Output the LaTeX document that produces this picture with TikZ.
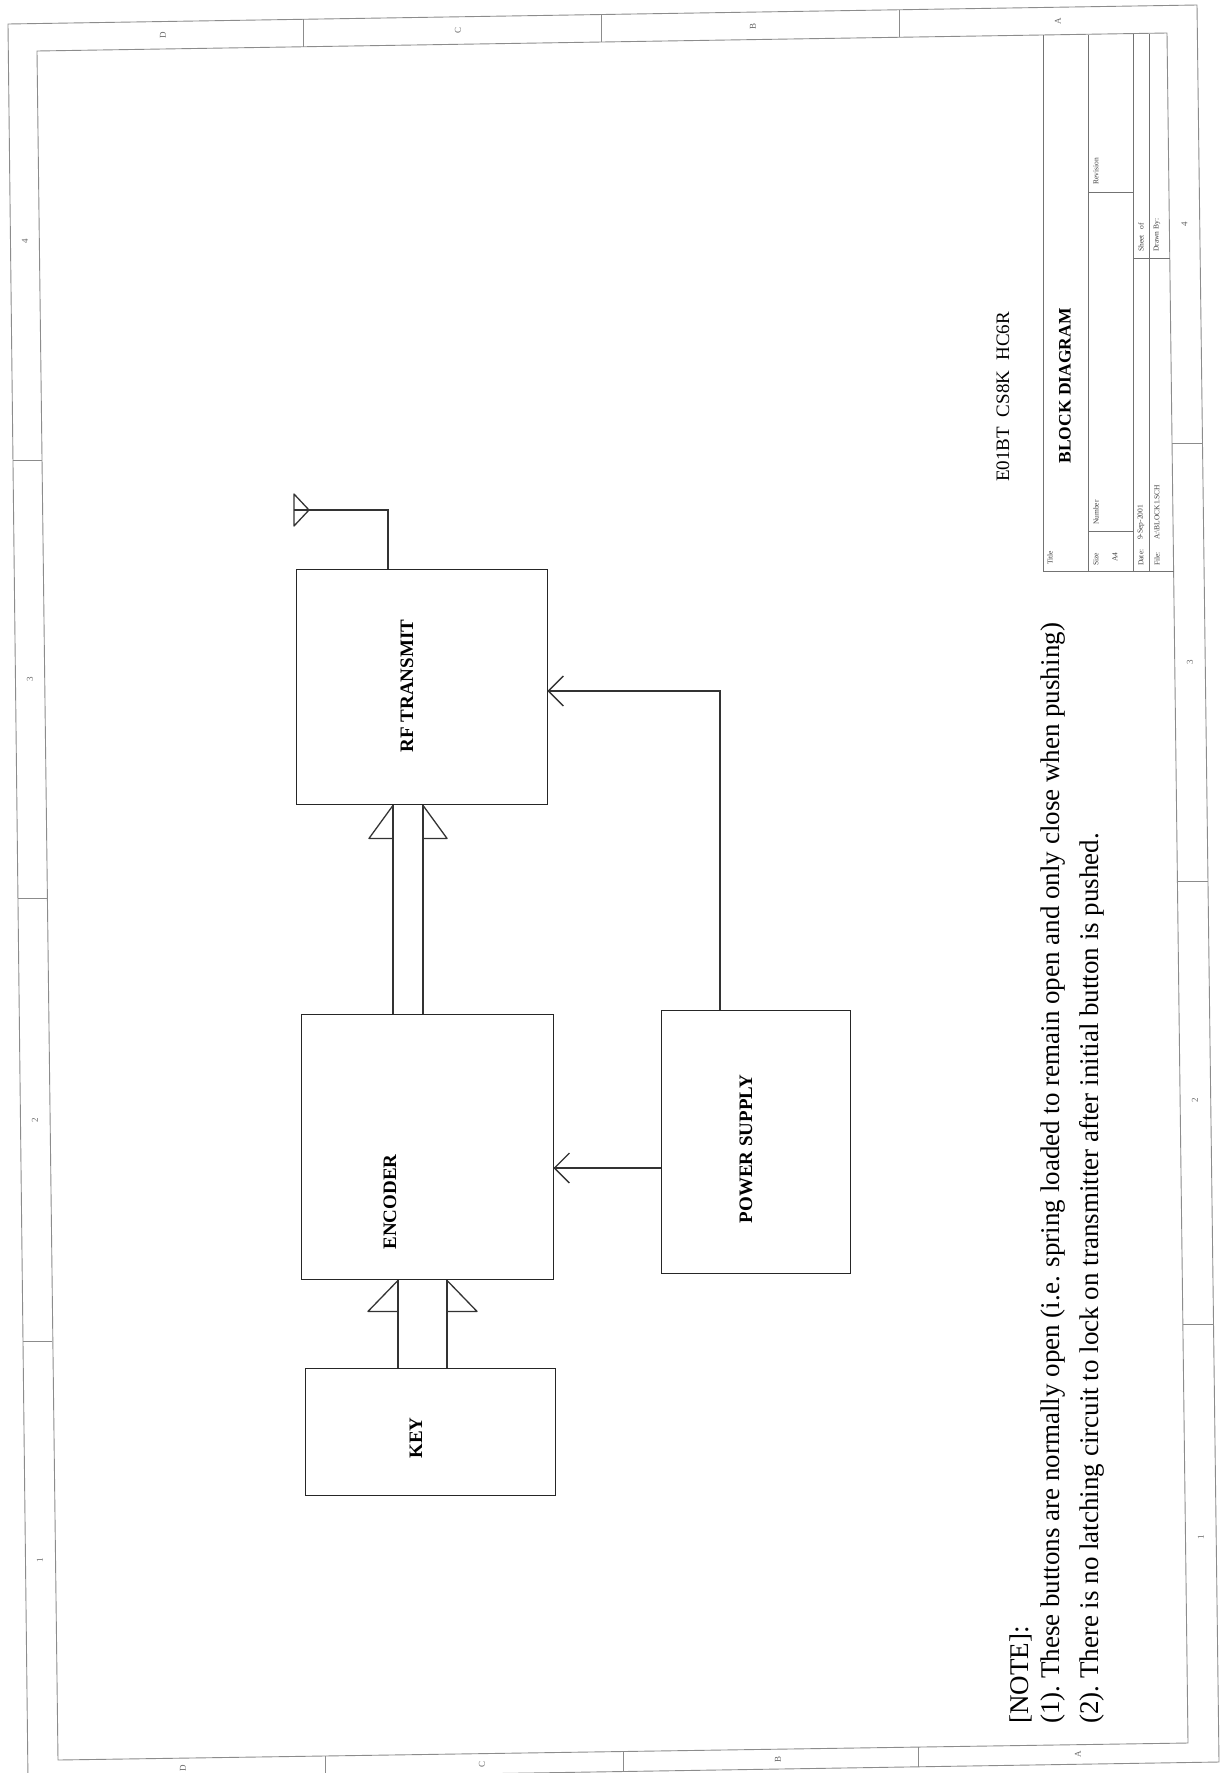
\documentclass[tikz,border=0pt]{standalone}
\usepackage{fontspec}
\setmainfont{Liberation Serif}
\usetikzlibrary{calc}
\begin{document}
\begin{tikzpicture}[x=1pt,y=-1pt,
  frame/.style={draw=black!45, line width=0.9pt},
  tbl/.style={draw=black!55, line width=0.7pt},
  blk/.style={draw=black!85, line width=1.4pt, rectangle, inner sep=0pt, anchor=north west},
  wire/.style={draw=black!80, line width=1.3pt},
  lbl/.style={font=\fontsize{19}{22}\selectfont\bfseries, rotate=90, inner sep=0pt},
  zone/.style={font=\fontsize{9}{10}\selectfont, text=black!60, rotate=90, inner sep=0pt},
  tiny/.style={font=\fontsize{7.5}{8}\selectfont, text=black!75, rotate=90, inner sep=0pt, anchor=west},
  note/.style={font=\fontsize{27}{32}\selectfont, rotate=90, inner sep=0pt, anchor=west}]
\useasboundingbox (0,0) rectangle (1220,1773);
\fill[white] (0,0) rectangle (1220,1773);
% frame corners
\coordinate (oTL) at (8,24);   \coordinate (oTR) at (1197,5);
\coordinate (oBR) at (1219,1762); \coordinate (oBL) at (28,1781);
\coordinate (iTL) at (37,51);  \coordinate (iTR) at (1167,33);
\coordinate (iBR) at (1188,1743); \coordinate (iBL) at (58,1760);
\draw[frame] (oTL) -- (oTR) -- (oBR) -- (oBL) -- cycle;
\draw[frame] (iTL) -- (iTR) -- (iBR) -- (iBL) -- cycle;
% top zone dividers and letters
\draw[frame] (303,19.3) -- (303,46.8);
\draw[frame] (601,14.5) -- (601,42.0);
\draw[frame] (899,9.8) -- (899,37.3);
\node[zone] (zt1) at (163,35) {D};
\node[zone] (zt2) at (458,30.5) {C};
\node[zone] (zt3) at (753,26) {B};
\node[zone] (zt4) at (1058,21) {A};
% bottom
\draw[frame] (325,1756) -- (325,1777);
\draw[frame] (623,1751.5) -- (623,1772);
\draw[frame] (918,1747) -- (918,1767);
\node[zone] (zb1) at (183,1768) {D};
\node[zone] (zb2) at (482,1764) {C};
\node[zone] (zb3) at (778,1759) {B};
\node[zone] (zb4) at (1078,1754) {A};
% left
\draw[frame] (13,460) -- (42,460);
\draw[frame] (18,898) -- (47,898);
\draw[frame] (23,1341) -- (52,1341);
\node[zone] (zl1) at (25,241) {4};
\node[zone] (zl2) at (30,679) {3};
\node[zone] (zl3) at (35,1120) {2};
\node[zone] (zl4) at (40,1560) {1};
% right
\draw[frame] (1172,443) -- (1202.5,443);
\draw[frame] (1177.4,881) -- (1208,881);
\draw[frame] (1182.9,1324) -- (1213.5,1324);
\node[zone] (zr1) at (1184.5,224) {4};
\node[zone] (zr2) at (1190,662) {3};
\node[zone] (zr3) at (1195,1100) {2};
\node[zone] (zr4) at (1201,1537) {1};

% title block
\draw[tbl] (1043,35) -- (1043,571) -- (1174,571);
\draw[tbl] (1088,35) -- (1088,571);
\draw[tbl] (1133,34) -- (1133,571);
\draw[tbl] (1149,34) -- (1149,571);
\draw[tbl] (1088,531) -- (1133,531);
\draw[tbl] (1088,192) -- (1133,192);
\draw[tbl] (1133,258) -- (1170,258);
\node[tiny] (t1) at (1050,565) {Title};
\node[font=\fontsize{17.5}{20}\selectfont\bfseries, rotate=90, inner sep=0pt] (t2) at (1065,386) {BLOCK DIAGRAM};
\node[tiny] (t3) at (1096,566) {Size};
\node[tiny] (t4) at (1115,562) {A4};
\node[tiny] (t5) at (1096,525) {Number};
\node[tiny] (t6) at (1096,185) {Revision};
\node[tiny] (t7) at (1141,566) {Date:};
\node[tiny] (t8) at (1141,540) {9-Sep-2001};
\node[tiny] (t9) at (1157,566) {File:};
\node[tiny] (t10) at (1157,540) {A:\textbackslash BLOCK1.SCH};
\node[tiny] (t11) at (1141,252) {Sheet\hspace{4pt} of};
\node[tiny] (t12) at (1157,252) {Drawn By:};
\node[font=\fontsize{19}{22}\selectfont, rotate=90, inner sep=0pt] (model) at (1003,397) {E01BT\hspace{10pt}CS8K\hspace{10pt}HC6R};

% notes
\node[note] (n0) at (1021,1724) {[NOTE]:};
\node[note] (n1) at (1053,1724) {(1).\ These buttons are normally open (i.e. spring loaded to remain open and only close when pushing)};
\node[note] (n2) at (1092,1724) {(2).\ There is no latching circuit to lock on transmitter after initial button is pushed.};

% blocks
\node[blk, minimum width=251pt, minimum height=235pt] (rf) at (296,569) {};
\node[blk, minimum width=252pt, minimum height=265pt] (enc) at (301,1014) {};
\node[blk, minimum width=189pt, minimum height=263pt] (ps) at (661,1010) {};
\node[blk, minimum width=250pt, minimum height=127pt] (key) at (305,1368) {};
\node[lbl] (rfl) at (407,686) {RF TRANSMIT};
\node[lbl] (encl) at (390,1202) {ENCODER};
\node[lbl] (psl) at (746,1149) {POWER SUPPLY};
\node[lbl] (keyl) at (416,1438) {KEY};

% antenna
\coordinate (antc) at (388,510);
\coordinate (apex) at (309,510);
\draw[wire] (rf.north -| antc) -- (antc) -- (apex);
\draw[wire, line join=round] (apex) -- (294,494) -- (294,526) -- cycle;
\draw[wire] (294,510) -- (apex);

% encoder -> rf (bus)
\coordinate (b1) at (393,0); \coordinate (b2) at (423,0);
\draw[wire] (enc.north -| b1) -- (rf.south -| b1);
\draw[wire] (enc.north -| b2) -- (rf.south -| b2);
\draw[wire, line join=round] (rf.south -| b1) -- ($(rf.south -| b1)+(-24,33)$) -- ($(rf.south -| b1)+(0,33)$);
\draw[wire, line join=round] (rf.south -| b2) -- ($(rf.south -| b2)+(24,33)$) -- ($(rf.south -| b2)+(0,33)$);

% key -> encoder (bus)
\coordinate (k1) at (398,0); \coordinate (k2) at (447,0);
\draw[wire] (key.north -| k1) -- (enc.south -| k1);
\draw[wire] (key.north -| k2) -- (enc.south -| k2);
\draw[wire, line join=round] (enc.south -| k1) -- ($(enc.south -| k1)+(-30,31)$) -- ($(enc.south -| k1)+(0,31)$);
\draw[wire, line join=round] (enc.south -| k2) -- ($(enc.south -| k2)+(30,31)$) -- ($(enc.south -| k2)+(0,31)$);

% power -> rf
\coordinate (pr) at (720,691);
\draw[wire] (ps.north -| pr) -- (pr) -- (rf.east |- pr);
\draw[wire] ($(rf.east |- pr)+(15,-15)$) -- (rf.east |- pr) -- ($(rf.east |- pr)+(15,15)$);
% power -> encoder
\coordinate (pe) at (0,1168);
\draw[wire] (ps.west |- pe) -- (enc.east |- pe);
\draw[wire] ($(enc.east |- pe)+(15,-15)$) -- (enc.east |- pe) -- ($(enc.east |- pe)+(15,15)$);
\end{tikzpicture}
\end{document}
